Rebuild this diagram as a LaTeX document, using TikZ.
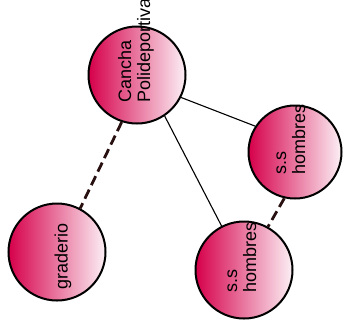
\documentclass[tikz,border=0pt]{standalone}
\usepackage{fontspec}
\setmainfont{Liberation Sans}
\usepackage{tikz}
\usetikzlibrary{arrows.meta}
\definecolor{rosa}{RGB}{214,0,74}
\definecolor{rosaclaro}{RGB}{252,240,245}
\definecolor{trazo}{RGB}{40,16,16}
\tikzset{
  place/.style={draw, circle, line width=2pt, minimum size=97pt, inner sep=0pt, left color=rosa, right color=rosaclaro},
  smallplace/.style={place, minimum size=93pt},
  placetext/.style={rotate=90, anchor=west, inner sep=0pt, align=left, font=\fontsize{18}{19}\selectfont},
  link/.style={line width=1.1pt},
  dashlink/.style={line width=2.8pt, color=trazo, dash pattern=on 10pt off 5pt}
}
\begin{document}
\begin{tikzpicture}[x=1pt, y=-1pt]
  \useasboundingbox (0,0) rectangle (344,325);
  \node[place] (cancha) at (137,75) {};
  \node[place] (graderio) at (57,252) {};
  \node[smallplace] (ssa) at (295,152) {};
  \node[place] (ssb) at (244,270) {};

  \node[placetext] (canchatext) at (136,103) {Cancha\\Polideportiva};
  \node[placetext] (graderiotext) at (63,290) {graderio};
  \node[placetext] (ssatext) at (291,175) {s.s\\hombres};
  \node[placetext] (ssbtext) at (242,293) {s.s\\hombres};

  \draw[link] (cancha.-27) -- (ssa.147);
  \draw[link] (cancha.-56) -- (ssb.117);
  \draw[dashlink] (cancha.252) -- (graderio.62);
  \draw[dashlink] (ssa.257) -- (ssb.61);
\end{tikzpicture}
\end{document}
